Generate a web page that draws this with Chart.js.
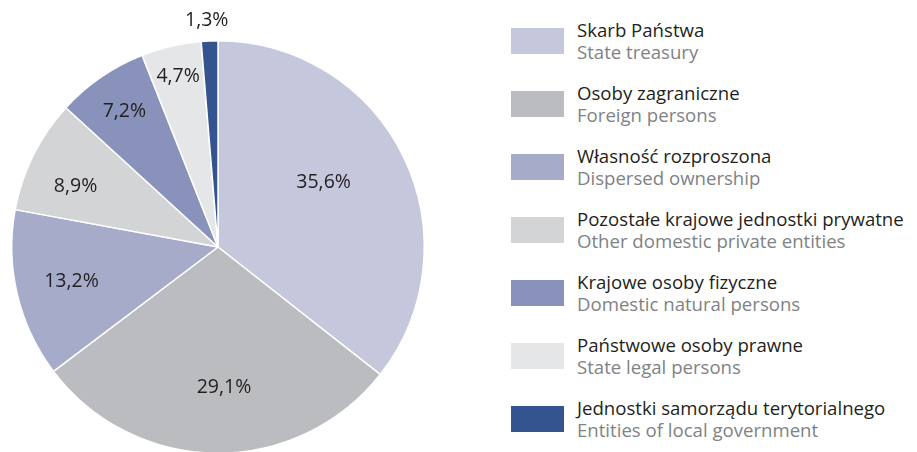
<!DOCTYPE html>
<html>
<head>
<meta charset="utf-8">
<script src="https://cdn.jsdelivr.net/npm/chart.js@4/dist/chart.umd.min.js"></script>
<style>
  html, body { margin: 0; padding: 0; background: #fff; overflow: hidden; width: 917px; height: 452px; }
  #wrap { position: absolute; left: 0; top: 0; width: 436px; height: 470px; }
  #legend { position: absolute; left: 511px; top: 9px; font-family: "Open Sans", sans-serif; }
  .item { display: flex; align-items: center; height: 63px; }
  .box { width: 53px; height: 26px; margin-right: 13px; flex: none; }
  .t1 { font-size: 18.6px; color: #231f20; line-height: 22px; white-space: nowrap; }
  .t2 { font-size: 18.6px; color: #808285; line-height: 22px; white-space: nowrap; }
</style>
</head>
<body>
<div id="wrap"><canvas id="c1"></canvas></div>
<div id="legend"></div>
<script>
// Struktura własności - udział w %
var labelsPl = ['Skarb Państwa', 'Osoby zagraniczne', 'Własność rozproszona',
  'Pozostałe krajowe jednostki prywatne', 'Krajowe osoby fizyczne',
  'Państwowe osoby prawne', 'Jednostki samorządu terytorialnego'];
var labelsEn = ['State treasury', 'Foreign persons', 'Dispersed ownership',
  'Other domestic private entities', 'Domestic natural persons',
  'State legal persons', 'Entities of local government'];
var shares = [35.6, 29.1, 13.2, 8.9, 7.2, 4.7, 1.3];
var colors = ['#c5c7dd', '#bbbcc0', '#a7abca', '#d3d4d6', '#8892bb', '#e5e6e8', '#33548e'];

// legend (html, two lines per entry)
var lg = document.getElementById('legend');
for (var i = 0; i < labelsPl.length; i++) {
  var it = document.createElement('div');
  it.className = 'item';
  it.innerHTML = '<div class="box" style="background:' + colors[i] + '"></div>' +
    '<div><div class="t1">' + labelsPl[i] + '</div><div class="t2">' + labelsEn[i] + '</div></div>';
  lg.appendChild(it);
}

// percentage labels on the slices
var sliceLabels = {
  id: 'sliceLabels',
  afterDatasetsDraw: function(chart, args, opts) {
    var ctx = chart.ctx;
    var arcs = chart.getDatasetMeta(0).data;
    ctx.save();
    ctx.font = '19.5px "Open Sans", sans-serif';
    ctx.fillStyle = '#231f20';
    ctx.textAlign = 'center';
    ctx.textBaseline = 'middle';
    arcs.forEach(function(a, i) {
      var p = a.getProps(['x', 'y', 'startAngle', 'endAngle', 'outerRadius'], true);
      var ang = (p.startAngle + p.endAngle) / 2 + (opts.shift[i] || 0) * Math.PI / 180;
      var r = p.outerRadius * opts.radius[i];
      var txt = shares[i].toFixed(1).replace('.', ',') + '%';
      ctx.fillText(txt, p.x + Math.cos(ang) * r, p.y + Math.sin(ang) * r);
    });
    ctx.restore();
  }
};

var ctx = document.getElementById('c1').getContext('2d');
var chart1 = new Chart(ctx, {
  type: 'pie',
  data: {
    labels: labelsPl,
    datasets: [{
      data: shares,
      backgroundColor: colors,
      borderColor: '#ffffff',
      borderWidth: 1.5
    }]
  },
  options: {
    responsive: true,
    maintainAspectRatio: false,
    animation: false,
    layout: { padding: { left: 10, right: 10, top: 40, bottom: 16 } },
    plugins: {
      legend: { display: false },
      tooltip: { enabled: false },
      sliceLabels: {
        radius: [0.6, 0.68, 0.73, 0.75, 0.8, 0.85, 1.1],
        shift: [-5.5, -3, 0, -3.5, 0, 0, -0.5]
      }
    }
  },
  plugins: [sliceLabels]
});
</script>
</body>
</html>
